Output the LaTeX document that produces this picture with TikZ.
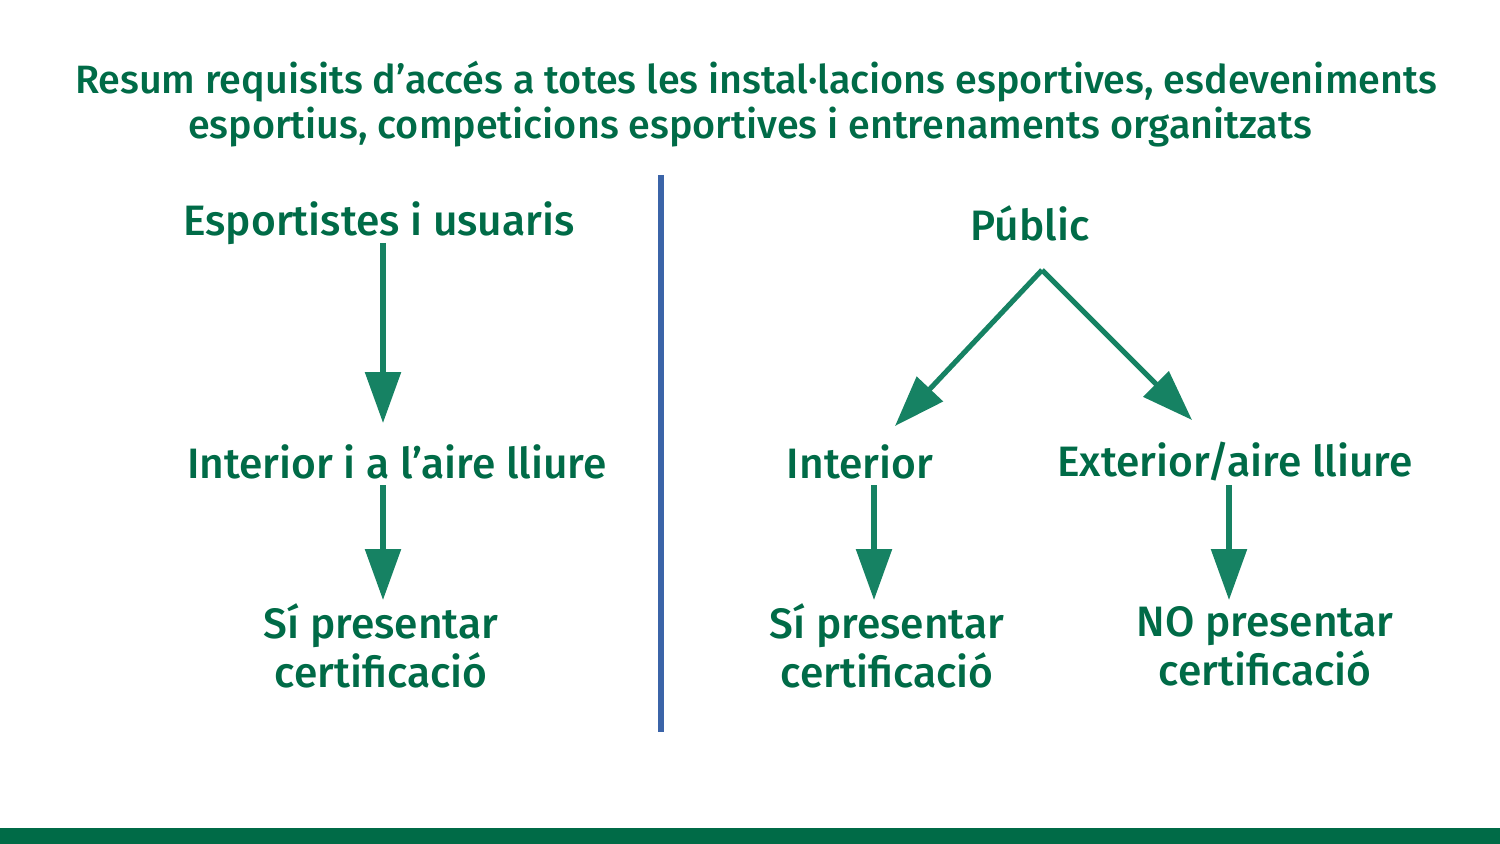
\documentclass[tikz,border=0pt]{standalone}
\usepackage{fontspec}
\setmainfont{Fira Sans}[UprightFont=* Medium, BoldFont=* SemiBold]
\usetikzlibrary{arrows.meta}
\definecolor{txtgreen}{HTML}{006B47}
\definecolor{arrgreen}{HTML}{168263}
\definecolor{divblue}{HTML}{3B64A8}
\tikzset{
  title/.style={text=txtgreen, font=\fontsize{22.5}{25}\selectfont, align=center, inner sep=0pt},
  label/.style={text=txtgreen, font=\fontsize{24.2}{28}\selectfont, align=center, inner sep=0pt},
  arr/.style={draw=arrgreen, line width=2.9pt, -{Triangle[width=20pt,length=29pt]}},
}
\begin{document}
\begin{tikzpicture}[x=0.02cm,y=-0.02cm]
\useasboundingbox (0,0) rectangle (1500,844);
\fill[txtgreen] (0,828) rectangle (1500,844);
\draw[divblue, line width=3pt] (661,175) -- (661,732);
\node[title] (t1) at (756,82) {Resum requisits d’accés a totes les instal·lacions esportives, esdeveniments};
\node[title] (t2) at (750,127) {esportius, competicions esportives i entrenaments organitzats};
\node[label] (esp) at (379,223) {Esportistes i usuaris};
\node[label] (int1) at (397,462) {Interior i a l’aire lliure};
\node[label] (si1) at (381,646) {Sí presentar\\ certificació};
\node[label] (pub) at (1030,223) {Públic};
\node[label] (int2) at (860,462) {Interior};
\node[label] (ext) at (1235,462) {Exterior/aire lliure};
\node[label] (si2) at (887,646) {Sí presentar\\ certificació};
\node[label] (no) at (1265,646) {NO presentar\\ certificació};
\coordinate (a1s) at (383,243);
\coordinate (a1e) at (383,423);
\coordinate (a2s) at (383,485);
\coordinate (a2e) at (383,600);
\coordinate (a3s) at (874,485);
\coordinate (a3e) at (874,600);
\coordinate (a4s) at (1229,485);
\coordinate (a4e) at (1229,600);
\coordinate (top) at (1042,270);
\coordinate (dl) at (895,426);
\coordinate (dr) at (1192,420);
\draw[arr] (a1s) -- (a1e);
\draw[arr] (a2s) -- (a2e);
\draw[arr] (a3s) -- (a3e);
\draw[arr] (a4s) -- (a4e);
\draw[arr] (top) -- (dl);
\draw[arr] (top) -- (dr);
\end{tikzpicture}
\end{document}
